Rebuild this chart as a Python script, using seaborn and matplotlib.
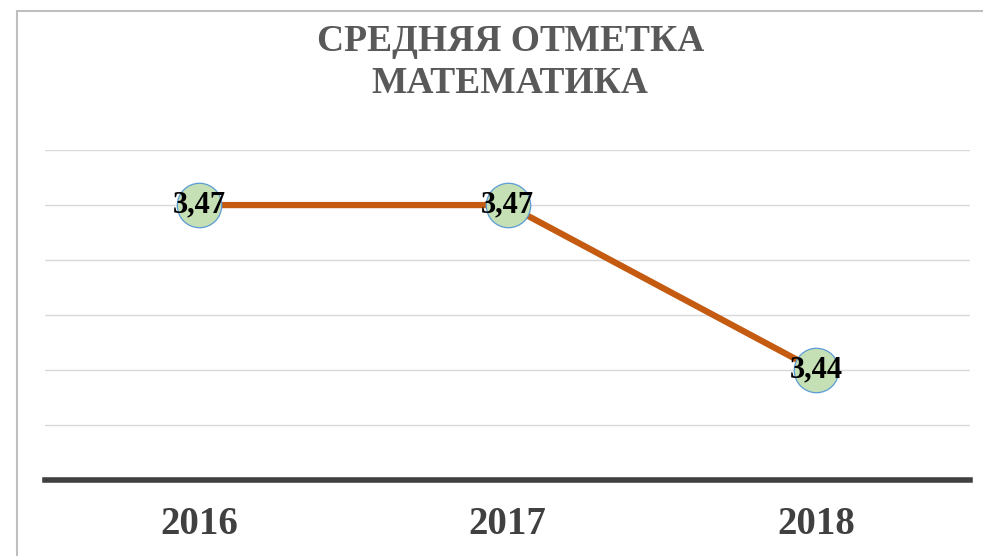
import matplotlib
matplotlib.use("Agg")
import matplotlib.pyplot as plt
import matplotlib.patches as mpatches
import seaborn as sns
import pandas as pd

# ------------------------
# DATA
# ------------------------
years = ["2016", "2017", "2018"]
avg_mark = [3.47, 3.47, 3.44]
labels = ["3,47", "3,47", "3,44"]
title = "СРЕДНЯЯ ОТМЕТКА\nМАТЕМАТИКА"

df = pd.DataFrame({"year": years, "mark": avg_mark, "label": labels})
df["pos"] = range(len(df))

# ------------------------
# PLOT
# ------------------------
sns.set_theme(style="white")
plt.rcParams["font.family"] = ["Liberation Serif", "DejaVu Serif"]

fig = plt.figure(figsize=(9.83, 5.56), dpi=100)
ax = fig.add_axes([0.046, 0.137, 0.941, 0.593])

# outer chart border (runs off the right/bottom edge)
fig.patches.append(mpatches.Rectangle((17 / 983, -0.1), 1.2, 1 - 11 / 556 + 0.1,
                                      transform=fig.transFigure, fill=False,
                                      edgecolor="#bfbfbf", lw=1.5, zorder=0))

sns.lineplot(data=df, x="pos", y="mark", ax=ax, color="#c55a11", lw=4.5,
             marker="o", markersize=32, markerfacecolor="#c5e0b4",
             markeredgecolor="#5b9bd5", markeredgewidth=0.9, zorder=3)

for _, r in df.iterrows():
    ax.text(r["pos"], r["mark"], r["label"], ha="center", va="center",
            fontsize=22, fontweight="bold", color="black", zorder=4)

ax.set_xlim(-0.5, 2.5)
ax.set_ylim(3.42, 3.48)
ax.set_yticks([3.43, 3.44, 3.45, 3.46, 3.47, 3.48])
ax.yaxis.grid(True, color="#d9d9d9", lw=1)
ax.set_yticklabels([])
ax.tick_params(axis="y", length=0)
ax.set_xticks(df["pos"])
ax.set_xticklabels(years, fontsize=28, fontweight="bold", color="#404040")
ax.tick_params(axis="x", length=0, pad=19)
ax.set_xlabel("")
ax.set_ylabel("")
for s in ["top", "left", "right"]:
    ax.spines[s].set_visible(False)
ax.spines["bottom"].set_color("#404040")
ax.spines["bottom"].set_linewidth(4)

fig.text(0.519, 0.887, title, ha="center", va="center", fontsize=27,
         fontweight="bold", color="#595959", linespacing=1.25)

fig.savefig("out.png", dpi=100)
